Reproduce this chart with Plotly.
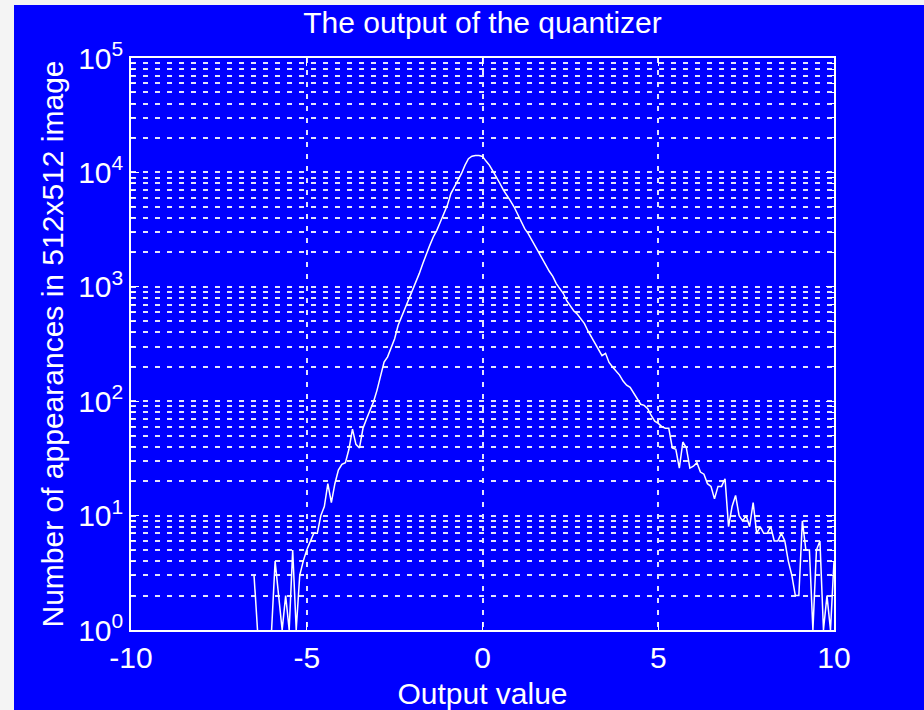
import plotly.graph_objects as go

# ---- data ----
output_values = [
    -6.5, -6.4, -6.3, -6.2, -6.1, -6.0, -5.9, -5.8, -5.7, -5.6,
    -5.5, -5.4, -5.3, -5.2, -5.1, -5.0, -4.9, -4.8, -4.7, -4.6,
    -4.5, -4.4, -4.3, -4.2, -4.1, -4.0, -3.9, -3.8, -3.7, -3.6,
    -3.5, -3.4, -3.3, -3.2, -3.1, -3.0, -2.9, -2.8, -2.7, -2.6,
    -2.5, -2.4, -2.3, -2.2, -2.1, -2.0, -1.9, -1.8, -1.7, -1.6,
    -1.5, -1.4, -1.3, -1.2, -1.1, -1.0, -0.9, -0.8, -0.7, -0.6,
    -0.5, -0.4, -0.3, -0.2, -0.1, 0.0, 0.1, 0.2, 0.3, 0.4,
    0.5, 0.6, 0.7, 0.8, 0.9, 1.0, 1.1, 1.2, 1.3, 1.4,
    1.5, 1.6, 1.7, 1.8, 1.9, 2.0, 2.1, 2.2, 2.3, 2.4,
    2.5, 2.6, 2.7, 2.8, 2.9, 3.0, 3.1, 3.2, 3.3, 3.4,
    3.5, 3.6, 3.7, 3.8, 3.9, 4.0, 4.1, 4.2, 4.3, 4.4,
    4.5, 4.6, 4.7, 4.8, 4.9, 5.0, 5.1, 5.2, 5.3, 5.4,
    5.5, 5.6, 5.7, 5.8, 5.9, 6.0, 6.1, 6.2, 6.3, 6.4,
    6.5, 6.6, 6.7, 6.8, 6.9, 7.0, 7.1, 7.2, 7.3, 7.4,
    7.5, 7.6, 7.7, 7.8, 7.9, 8.0, 8.1, 8.2, 8.3, 8.4,
    8.5, 8.6, 8.7, 8.8, 8.9, 9.0, 9.1, 9.2, 9.3, 9.4,
    9.5, 9.6, 9.7, 9.8, 9.9, 10.0,
]

appearances = [
    3, 1, None, None, None, 1, 4, 2, 1, 2,
    1, 5, 1, 3, 4, 5, 6, 7, 7, 10,
    12, 19, 13, 19, 25, 28, 29, 38, 57, 42,
    39, 58, 70, 83, 99, 125, 165, 220, 244, 298,
    352, 461, 545, 645, 762, 901, 1067, 1303, 1594, 1950,
    2302, 2725, 3115, 3680, 4357, 5150, 6520, 7450, 8400, 9740,
    11520, 13170, 13850, 14050, 14020, 13800, 12560, 11520, 10200, 9100,
    7960, 6960, 6300, 5610, 4980, 4300, 3610, 3220, 2920, 2580,
    2260, 1970, 1727, 1540, 1366, 1235, 1067, 964, 873, 752,
    676, 615, 575, 524, 477, 411, 360, 319, 283, 250,
    262, 218, 199, 184, 169, 150, 138, 132, 117, 103,
    94, 92, 86, 75, 67, 64, 60, 58, 58, 39,
    38, 26, 44, 39, 26, 27, 29, 24, 23, 19,
    18, 14, 18, 18, 21, 8, 12, 15, 10, 9,
    10, 8, 13, 7, 8, 7, 7, 8, 6, 6,
    7, 6, 4, 3, 2, 2, 9, 5, 5, 1,
    5, 6, 1, 2, 1, 4,
]

x_tick_values = [-10, -5, 0, 5, 10]
x_tick_labels = ["-10", "-5", "0", "5", "10"]
y_tick_values = [1, 10, 100, 1000, 10000, 100000]
y_tick_labels = ["10<sup>0</sup>", "10<sup>1</sup>", "10<sup>2</sup>",
                 "10<sup>3</sup>", "10<sup>4</sup>", "10<sup>5</sup>"]
y_minor_values = [m * d for d in (1, 10, 100, 1000, 10000) for m in range(2, 10)]

title_text = "The output of the quantizer"
x_title = "Output value"
y_title = "Number of appearances in 512x512 image"

assert len(output_values) == len(appearances)

# ---- figure ----
BLUE = "#0000ff"
GRID = "#e2e2ff"
FONT = "Liberation Sans, Arial, sans-serif"

fig = go.Figure()
fig.add_trace(go.Scatter(
    x=output_values, y=appearances, mode="lines",
    line=dict(color="white", width=1.5),
    connectgaps=False, hoverinfo="skip",
))

L, R, T, B = 131, 834, 58, 630
W, H = 924, 710
pw, ph = R - L, B - T

fig.update_layout(
    width=W, height=H,
    margin=dict(l=L, r=W - R, t=T, b=H - B),
    paper_bgcolor="#f4f4f4",
    plot_bgcolor=BLUE,
    showlegend=False,
    font=dict(family=FONT, size=30, color="white"),
    title=dict(text=title_text, x=0.5, xref="paper", xanchor="center",
               y=1 - 22 / H, yref="container", yanchor="middle",
               font=dict(family=FONT, size=30, color="white")),
    shapes=[dict(type="rect", xref="paper", yref="paper",
                 x0=(14 - L) / pw, x1=(W - L) / pw + 0.02,
                 y0=(B - H) / ph - 0.02, y1=(B - 5) / ph,
                 fillcolor=BLUE, line=dict(width=0), layer="below")],
)

fig.update_xaxes(
    range=[-10, 10], automargin=False,
    tickmode="array", tickvals=x_tick_values, ticktext=x_tick_labels,
    showline=True, linecolor="white", linewidth=1.5, mirror="ticks",
    ticks="inside", ticklen=8, tickcolor="white", tickwidth=1,
    showgrid=True, gridcolor=GRID, gridwidth=1.5, griddash="5px,7px",
    zeroline=False,
    tickfont=dict(family=FONT, size=30, color="white"),
    title=dict(text=x_title, standoff=12,
               font=dict(family=FONT, size=30, color="white")),
)

fig.update_yaxes(
    type="log", range=[0, 5], automargin=False,
    tickmode="array", tickvals=y_tick_values, ticktext=y_tick_labels,
    showline=True, linecolor="white", linewidth=1.5, mirror="ticks",
    ticks="inside", ticklen=8, tickcolor="white", tickwidth=1,
    showgrid=True, gridcolor=GRID, gridwidth=1.5, griddash="5px,7px",
    zeroline=False,
    minor=dict(tickvals=y_minor_values, showgrid=True, gridcolor=GRID,
               gridwidth=1.5, griddash="5px,7px", ticks="inside",
               ticklen=4, tickcolor="white"),
    tickfont=dict(family=FONT, size=30, color="white"),
    title=dict(text=y_title, standoff=6,
               font=dict(family=FONT, size=30, color="white")),
)

fig.write_html("out.html")
